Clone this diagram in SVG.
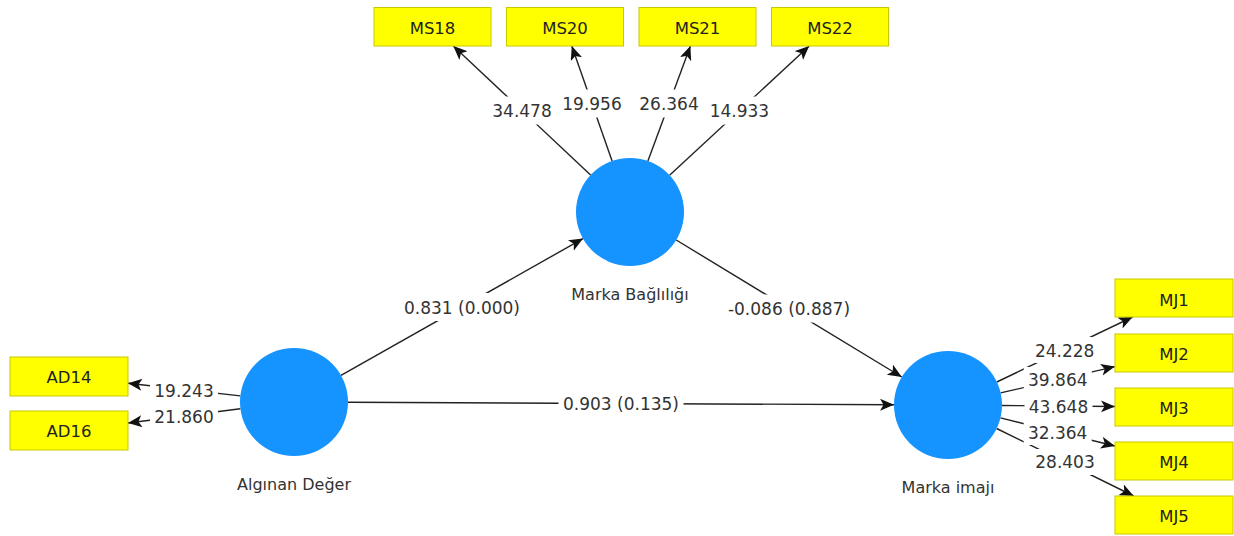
<svg xmlns="http://www.w3.org/2000/svg" width="1234" height="536" viewBox="0 0 1234 536">
<defs>
<marker id="ah" markerUnits="userSpaceOnUse" markerWidth="16" markerHeight="14" refX="14" refY="6" orient="auto">
<path d="M0,0 L14,6 L0,12 L3.5,6 z" fill="#111"/>
</marker>
<style>
.e{stroke:#222;stroke-width:1.4;fill:none;marker-end:url(#ah)}
.bg{fill:#fff}
.lt{font-family:"DejaVu Sans",sans-serif;font-size:17px;fill:#333;text-anchor:middle}
.bx{fill:#ffff00;stroke:#c8c800;stroke-width:1}
.bt{font-family:"DejaVu Sans",sans-serif;font-size:16.5px;fill:#222;text-anchor:middle}
.lv{fill:#1593ff}
.nt{font-family:"DejaVu Sans",sans-serif;font-size:16px;fill:#333;text-anchor:middle}
</style>
</defs>
<rect width="1234" height="536" fill="#fff"/>
<g id="connectors">
<line class="e" x1="590.6" y1="175" x2="453.3" y2="46"/>
<line class="e" x1="612.1" y1="161.1" x2="571.8" y2="46"/>
<line class="e" x1="647.9" y1="161.1" x2="690.4" y2="46"/>
<line class="e" x1="669.6" y1="175.3" x2="809.2" y2="46"/>
<line class="e" x1="240.3" y1="395.9" x2="128" y2="383.2"/>
<line class="e" x1="240.4" y1="408.8" x2="128" y2="423"/>
<line class="e" x1="996.8" y1="382" x2="1132.6" y2="317"/>
<line class="e" x1="1000.6" y1="392.9" x2="1115" y2="366.6"/>
<line class="e" x1="1002" y1="405.5" x2="1115" y2="406.5"/>
<line class="e" x1="1000.4" y1="417.9" x2="1115" y2="446"/>
<line class="e" x1="996.6" y1="428.5" x2="1133.7" y2="496"/>
<line class="e" x1="341" y1="375.4" x2="583" y2="238.6"/>
<line class="e" x1="676.2" y1="240" x2="901.8" y2="377"/>
<line class="e" x1="348" y1="402.2" x2="894" y2="404.8"/>
<g id="edge-labels">
<rect class="bg" x="488" y="96.5" width="68" height="28"/><text class="lt" x="522" y="117">34.478</text>
<rect class="bg" x="558" y="89.5" width="68" height="28"/><text class="lt" x="592" y="110">19.956</text>
<rect class="bg" x="635" y="89.5" width="68" height="28"/><text class="lt" x="669" y="110">26.364</text>
<rect class="bg" x="705.4" y="96.6" width="68" height="28"/><text class="lt" x="739.4" y="117.1">14.933</text>
<rect class="bg" x="150" y="376" width="68" height="27"/><text class="lt" x="184" y="396.5">19.243</text>
<rect class="bg" x="150" y="403" width="68" height="27"/><text class="lt" x="184" y="422.5">21.860</text>
<rect class="bg" x="1030.7" y="337" width="68" height="26"/><text class="lt" x="1064.7" y="356.5">24.228</text>
<rect class="bg" x="1023.8" y="367" width="68" height="26"/><text class="lt" x="1057.8" y="386.2">39.864</text>
<rect class="bg" x="1024.5" y="393" width="68" height="26"/><text class="lt" x="1058.5" y="412.5">43.648</text>
<rect class="bg" x="1023.7" y="419" width="68" height="26"/><text class="lt" x="1057.7" y="438.5">32.364</text>
<rect class="bg" x="1031" y="449" width="68" height="26"/><text class="lt" x="1065" y="468.3">28.403</text>
<rect class="bg" x="399.5" y="293" width="125" height="28"/><text class="lt" x="462" y="313.5">0.831 (0.000)</text>
<rect class="bg" x="723.5" y="294.5" width="131" height="28"/><text class="lt" x="789" y="315">-0.086 (0.887)</text>
<rect class="bg" x="558.5" y="389.5" width="125" height="28"/><text class="lt" x="621" y="410">0.903 (0.135)</text>
</g>
</g>
<g id="marka-baglilgi"><circle class="lv" cx="630" cy="212" r="54"/><text class="nt" x="630" y="300">Marka Bağlılığı</text></g>
<g id="alginan-deger"><circle class="lv" cx="294" cy="402" r="54"/><text class="nt" x="294" y="490">Algınan Değer</text></g>
<g id="marka-imaji"><circle class="lv" cx="948" cy="405" r="54"/><text class="nt" x="948" y="493">Marka imajı</text></g>
<g id="MS18"><rect class="bx" x="374" y="7.5" width="117" height="38.5"/><text class="bt" x="432.5" y="33.5">MS18</text></g>
<g id="MS20"><rect class="bx" x="506.5" y="7.5" width="117" height="38.5"/><text class="bt" x="565" y="33.5">MS20</text></g>
<g id="MS21"><rect class="bx" x="639" y="7.5" width="117" height="38.5"/><text class="bt" x="697.5" y="33.5">MS21</text></g>
<g id="MS22"><rect class="bx" x="771.5" y="7.5" width="117" height="38.5"/><text class="bt" x="830" y="33.5">MS22</text></g>
<g id="AD14"><rect class="bx" x="10" y="357" width="118" height="39"/><text class="bt" x="69" y="383">AD14</text></g>
<g id="AD16"><rect class="bx" x="10" y="411" width="118" height="39"/><text class="bt" x="69" y="437">AD16</text></g>
<g id="MJ1"><rect class="bx" x="1115" y="279" width="118" height="38"/><text class="bt" x="1174" y="305.5">MJ1</text></g>
<g id="MJ2"><rect class="bx" x="1115" y="334" width="118" height="38"/><text class="bt" x="1174" y="360">MJ2</text></g>
<g id="MJ3"><rect class="bx" x="1115" y="388" width="118" height="38"/><text class="bt" x="1174" y="414">MJ3</text></g>
<g id="MJ4"><rect class="bx" x="1115" y="442" width="118" height="38"/><text class="bt" x="1174" y="468">MJ4</text></g>
<g id="MJ5"><rect class="bx" x="1115" y="496" width="118" height="38"/><text class="bt" x="1174" y="522">MJ5</text></g>
</svg>
